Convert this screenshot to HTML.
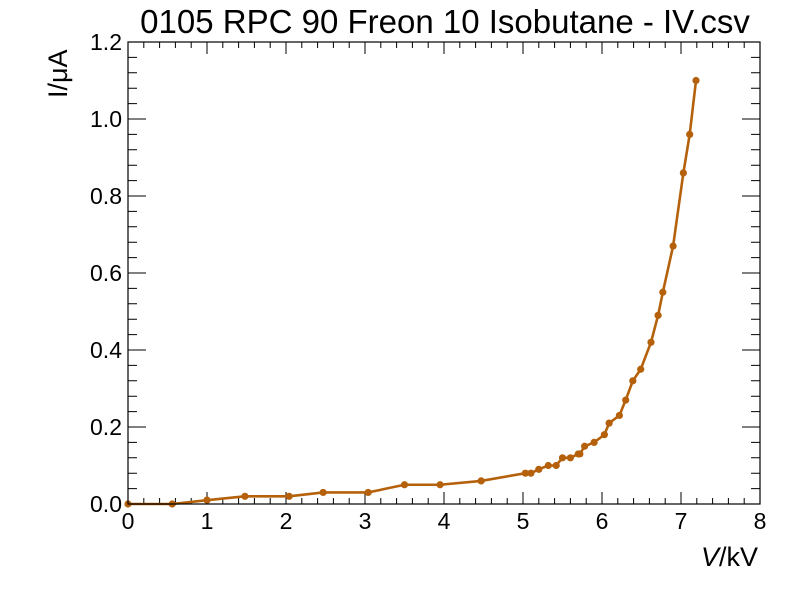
<!DOCTYPE html>
<html><head><meta charset="utf-8"><style>
body{margin:0;background:#fff;}
svg text{font-family:"Liberation Sans",sans-serif;fill:#000;}
</style></head><body>
<svg id="chart" width="800" height="600" xmlns="http://www.w3.org/2000/svg">
<rect width="800" height="600" fill="#fff"/>
<text x="445" y="33" font-size="33" text-anchor="middle">0105 RPC 90 Freon 10 Isobutane - IV.csv</text>
<text transform="translate(67,98) rotate(-90)" font-size="27" text-anchor="start">I/μA</text>
<text x="758" y="566" font-size="27" text-anchor="end"><tspan font-style="italic">V</tspan>/kV</text>
<g id="axes"></g>
<g id="series"></g>
<rect x="128" y="42" width="632" height="462" fill="none" stroke="#000" stroke-width="1.2"/>
</svg>
<script>
const voltages=[0,0.56,1.0,1.48,2.04,2.47,3.04,3.5,3.95,4.47,5.03,5.1,5.2,5.32,5.42,5.5,5.6,5.7,5.72,5.78,5.9,6.03,6.09,6.22,6.3,6.39,6.49,6.62,6.71,6.77,6.9,7.03,7.11,7.19];
const currents=[0,0,0.01,0.02,0.02,0.03,0.03,0.05,0.05,0.06,0.08,0.08,0.09,0.10,0.10,0.12,0.12,0.13,0.13,0.15,0.16,0.18,0.21,0.23,0.27,0.32,0.35,0.42,0.49,0.55,0.67,0.86,0.96,1.1];
const xTicks=[0,1,2,3,4,5,6,7,8];
const yTicks=[0,0.2,0.4,0.6,0.8,1.0,1.2];
const yTickLabels=["0.0","0.2","0.4","0.6","0.8","1.0","1.2"];
const X0=128,X1=760,Y0=504,Y1=42;
const sx=v=>X0+(v-0)/8*(X1-X0);
const sy=v=>Y0-(v-0)/1.2*(Y0-Y1);
const NS="http://www.w3.org/2000/svg";
const axes=document.getElementById('axes'),series=document.getElementById('series');
function mk(tag,attrs,parent){const e=document.createElementNS(NS,tag);for(const k in attrs)e.setAttribute(k,attrs[k]);parent.appendChild(e);return e;}
for(let i=0;i<=40;i++){const v=i*0.2,x=sx(v),L=(i%5==0)?12:6;
 const t=mk('path',{d:`M${x},${Y0}v${-L}M${x},${Y1}v${L}`,stroke:'#000','stroke-width':1},axes);
 
 }
xTicks.forEach(v=>{const t=mk('text',{x:sx(v),y:529,'font-size':23,'text-anchor':'middle'},axes);t.textContent=v;
 
 });
for(let i=0;i<=30;i++){const v=i*0.04,y=sy(v),L=(i%5==0)?18:9;
 const t=mk('path',{d:`M${X0},${y}h${L}M${X1},${y}h${-L}`,stroke:'#000','stroke-width':1},axes);
 
 }
yTicks.forEach((v,i)=>{const t=mk('text',{x:122,y:sy(v)+8,'font-size':23,'text-anchor':'end'},axes);t.textContent=yTickLabels[i];
 
 });
const pts=voltages.map((v,i)=>sx(v)+','+sy(currents[i])).join(' ');
const line=mk('polyline',{points:pts,fill:'none',stroke:'#b5610b','stroke-width':2.6},series);


voltages.forEach((v,i)=>{const c=mk('circle',{cx:sx(v),cy:sy(currents[i]),r:3.6,fill:'#b5610b'},series);
 
 });
</script>
</body></html>
